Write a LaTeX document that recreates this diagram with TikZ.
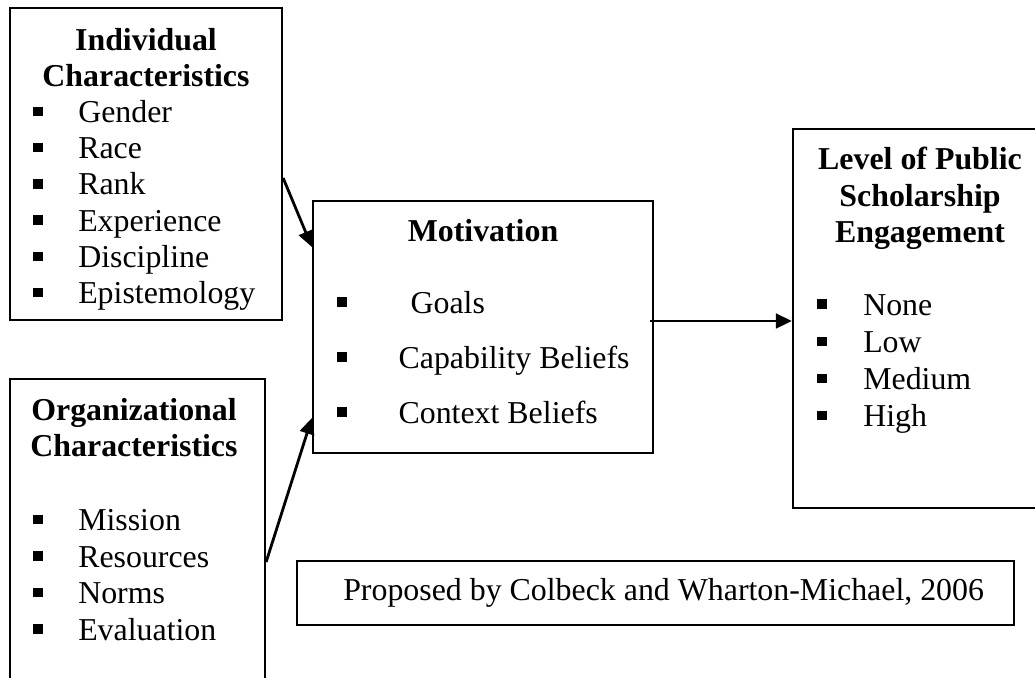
\documentclass[tikz,border=0pt]{standalone}
\usepackage{fontspec}
\setmainfont{Liberation Serif}
\usetikzlibrary{fit,arrows.meta}
% small filled square used as list bullet
\newcommand{\sqbullet}{\raisebox{4.8pt}{\rule{7pt}{7pt}}}
\newcommand{\bulleted}[1]{\makebox[33.75pt][l]{\sqbullet}#1}
\begin{document}
\begin{tikzpicture}[x=0.75pt,y=-0.75pt,
  box/.style={draw, line width=1.7pt, inner sep=0pt},
  head/.style={font=\fontsize{23.9}{27.6}\selectfont\bfseries, anchor=base, inner sep=0pt},
  entry/.style={font=\fontsize{23.9}{27.6}\selectfont, anchor=base west, inner sep=0pt},
  link/.style={line width=2.1pt, -{Triangle[length=12pt,width=11pt]}}]
\useasboundingbox (0,0) rectangle (1035,678);
\clip (0,0) rectangle (1035,678);

% frames
\node[box, fit={(10,8) (282,320)}] (ind) {};
\node[box, fit={(10,379) (265,700)}] (org) {};
\node[box, fit={(313,201) (653,453)}] (mot) {};
\node[box, fit={(793,129) (1047,508)}] (lvl) {};
\node[box, fit={(297,561) (1014,625)}] (src) {};

% individual characteristics (text frame cuts the last line's descenders)
\begin{scope}
\clip (12,10) rectangle (280,309);
\node[head] (indh1) at (146,50) {Individual};
\node[head] (indh2) at (146,86) {Characteristics};
\foreach \t [count=\i] in {Gender,Race,Rank,Experience,Discipline,Epistemology}
  \node[entry] (ind\i) at (33,{86+\i*36.3}) {\bulleted{\t}};
\end{scope}

% organizational characteristics
\node[head] (orgh1) at (134,420) {Organizational};
\node[head] (orgh2) at (134,456) {Characteristics};
\foreach \t [count=\i] in {Mission,Resources,Norms,Evaluation}
  \node[entry] (org\i) at (33,{494+\i*36.5}) {\bulleted{\t}};

% motivation
\node[head] (moth) at (483,241) {Motivation};
\node[entry] (mot1) at (337,313) {\makebox[55pt][l]{\sqbullet}Goals};
\node[entry] (mot2) at (337,368) {\makebox[46pt][l]{\sqbullet}Capability Beliefs};
\node[entry] (mot3) at (337,423) {\makebox[46pt][l]{\sqbullet}Context Beliefs};

% level of public scholarship engagement
\node[head] (lvlh1) at (920,169) {Level of Public};
\node[head] (lvlh2) at (920,206) {Scholarship};
\node[head] (lvlh3) at (920,242) {Engagement};
\foreach \t [count=\i] in {None,Low,Medium,High}
  \node[entry] (lvl\i) at (817,{278+\i*37.2}) {\makebox[34.5pt][l]{\sqbullet}\t};

% source note
\node[entry] (srct) at (343,600) {Proposed by Colbeck and Wharton-Michael, 2006};

% connectors
\coordinate (a1s) at (ind.east |- 0,178);
\coordinate (a1e) at (mot.west |- 0,247);
\coordinate (a2s) at (org.east |- 0,562);
\coordinate (a2e) at (mot.west |- 0,418);
\coordinate (a3s) at (650,321);
\coordinate (a3e) at (lvl.west |- 0,321);
\draw[link] (a1s) -- (a1e);
\draw[link] (a2s) -- (a2e);
\draw[link] (a3s) -- (a3e);
\end{tikzpicture}
\end{document}
